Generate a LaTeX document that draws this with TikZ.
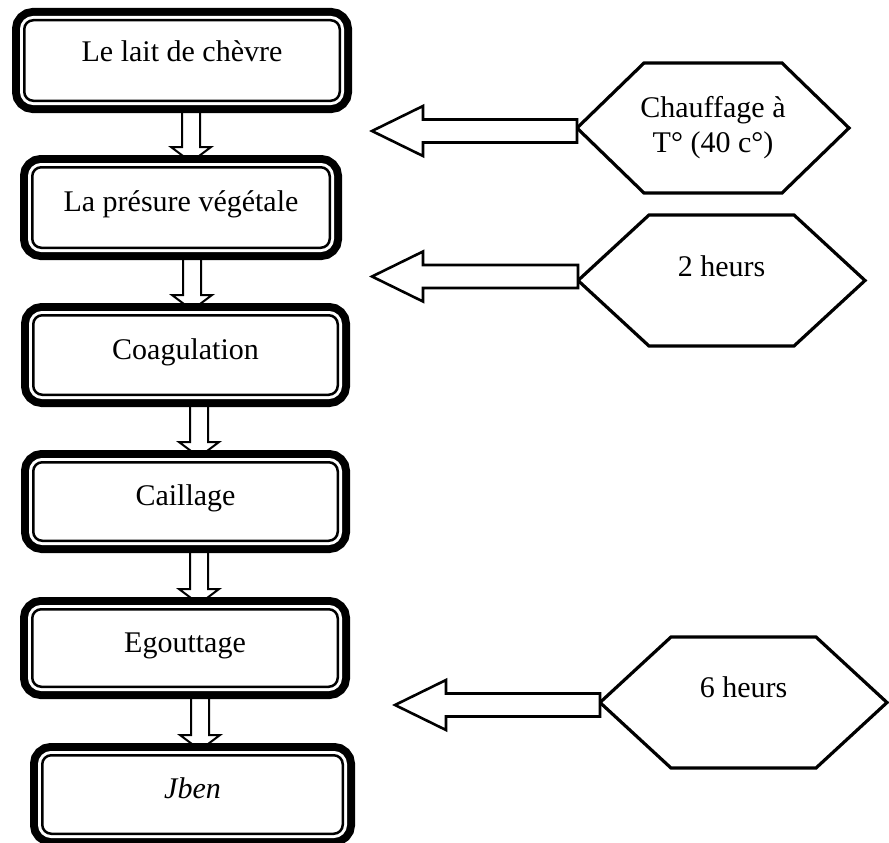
\documentclass[tikz,border=0pt]{standalone}
\usepackage{fontspec}
\setmainfont{Liberation Serif}
\usetikzlibrary{calc,backgrounds}

\newcommand{\stagefont}{\fontsize{30}{35}\selectfont}

\tikzset{
  stage/.style={rectangle, draw, fill=white, line width=2.5pt, rounded corners=9pt,
    preaction={draw, line width=24.5pt},
    preaction={draw=white, line width=8.5pt},
    inner sep=0pt, font=\stagefont, text height=20pt, text depth=12pt},
  hexbox/.style={rectangle, inner sep=0pt, outer sep=0pt, font=\stagefont, align=center},
  hexline/.style={line width=3.2pt, line join=miter},
  flowline/.style={draw, fill=white, line width=2pt, line join=miter},
}

% block arrow going down, shaft from #1, tip at the height of #2
\newcommand{\flowdown}[2]{%
  \draw[flowline] let \p1=(#1), \p2=(#2) in
    (\x1-9pt,\y1) -- (\x1-9pt,\y2+15pt) -- (\x1-20pt,\y2+15pt) -- (\x1,\y2)
    -- (\x1+20pt,\y2+15pt) -- (\x1+9pt,\y2+15pt) -- (\x1+9pt,\y1) -- cycle;}

% block arrow going left, shaft from #1, tip at #2
\newcommand{\flowleft}[2]{%
  \draw[flowline, line width=2.6pt] let \p1=(#1), \p2=(#2) in
    (\x1,\y1+11.5pt) -- (\x2+51pt,\y1+11.5pt) -- (\x2+51pt,\y1+25pt) -- (\x2,\y1)
    -- (\x2+51pt,\y1-25pt) -- (\x2+51pt,\y1-11.5pt) -- (\x1,\y1-11.5pt) -- cycle;}

% hexagon round the node #1, slant width #2
\newcommand{\hexframe}[2]{%
  \draw[hexline] (#1.west) -- ([xshift=#2]#1.north west) -- ([xshift=-#2]#1.north east)
    -- (#1.east) -- ([xshift=-#2]#1.south east) -- ([xshift=#2]#1.south west) -- cycle;}

\begin{document}
\begin{tikzpicture}[x=1pt, y=-1pt]
\useasboundingbox (0,0) rectangle (889,843);

% Process stages
\node[stage, minimum width=315.5pt, minimum height=80.5pt, text depth=17pt] (lait) at (182,60.5) {Le lait de chèvre};
\node[stage, minimum width=297.5pt, minimum height=80.5pt] (presure) at (181,207.5) {La présure végétale};
\node[stage, minimum width=304.5pt, minimum height=79.5pt] (coag) at (185.5,355) {Coagulation};
\node[stage, minimum width=304.5pt, minimum height=78.5pt] (caillage) at (185.5,501.5) {Caillage};
\node[stage, minimum width=305.5pt, minimum height=77.5pt] (egout) at (185,648) {Egouttage};
\node[stage, minimum width=300.5pt, minimum height=78.5pt] (jben) at (192.5,794.5) {\textit{Jben}};

% Conditions
\node[hexbox, minimum width=272pt, minimum height=130pt] (chauf) at (713,128) {Chauffage à\\T° (40 c°)};
\node[hexbox, minimum width=287pt, minimum height=131pt, text height=20pt, text depth=28pt] (deux) at (721.5,280.5) {2 heurs};
\node[hexbox, minimum width=287pt, minimum height=131pt, text height=20pt, text depth=30pt] (six) at (743.5,702.5) {6 heurs};
\hexframe{chauf}{67pt}
\hexframe{deux}{71pt}
\hexframe{six}{71pt}

% Side arrows
\coordinate (t1) at (372,131);
\coordinate (t2) at (372,276.5);
\coordinate (t3) at (395,705);
\flowleft{chauf.west |- t1}{t1}
\flowleft{deux.west |- t2}{t2}
\flowleft{six.west |- t3}{t3}

% Down arrows, behind the frames
\begin{scope}[on background layer]
\flowdown{[xshift=9pt]lait.south}{[yshift=4pt]presure.north}
\flowdown{[xshift=11pt]presure.south}{[yshift=4pt]coag.north}
\flowdown{[xshift=13.5pt]coag.south}{[yshift=4pt]caillage.north}
\flowdown{[xshift=13.5pt]caillage.south}{[yshift=4pt]egout.north}
\flowdown{[xshift=15pt]egout.south}{[yshift=4pt]jben.north}
\end{scope}
\end{tikzpicture}
\end{document}
